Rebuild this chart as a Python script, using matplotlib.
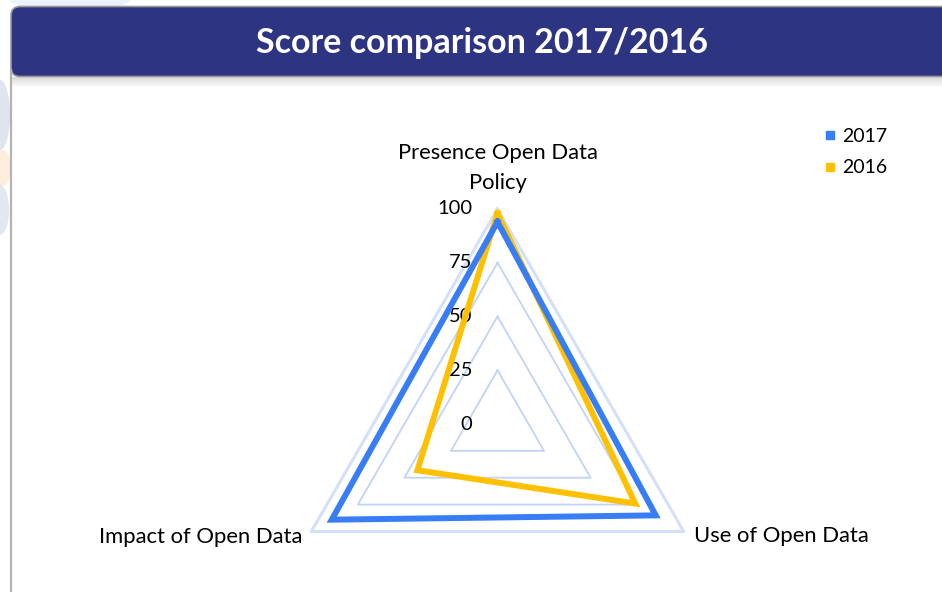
import numpy as np
import matplotlib.pyplot as plt
from matplotlib.patches import FancyBboxPatch, Rectangle, Ellipse
from matplotlib.lines import Line2D

# données
categories = ["Presence Open Data\nPolicy", "Use of Open Data", "Impact of Open Data"]
scores_2017 = [94, 85, 89]
scores_2016 = [98, 74, 43]
series = ["2017", "2016"]
levels = [0, 25, 50, 75, 100]
title = "Score comparison 2017/2016"

BLUE = "#377DF6"
YELLOW = "#FFC000"
GRID = "#C4D6F7"
BANNER = "#2D3481"

plt.rcParams['font.family'] = ['Lato', 'DejaVu Sans']

W, H = 942, 592
fig = plt.figure(figsize=(W / 100, H / 100), dpi=100)

# fond de diapo (pixels)
bg = fig.add_axes([0, 0, 1, 1], zorder=0)
bg.set_xlim(0, W)
bg.set_ylim(H, 0)
bg.axis("off")

# taches floues a gauche
for (x, y, w, h, c) in [(70, 0, 120, 20, "#DCEBF7"), (0, 115, 20, 70, "#CDD3E4"),
                        (2, 168, 18, 36, "#FCE3C4"), (0, 210, 18, 50, "#D3D8E6")]:
    bg.add_patch(Ellipse((x, y), w, h, color=c, alpha=0.6, lw=0))

# carte blanche + bord gauche
bg.add_patch(Rectangle((11, 76), W, H, facecolor="white", edgecolor="none"))
bg.plot([10.5, 10.5], [70, H], color="#B3B3B3", lw=1.6)

# ombre sous le bandeau
for i in range(10):
    bg.add_patch(Rectangle((12, 77 + i), W, 1, color="#808080",
                           alpha=0.28 * (1 - i / 10), lw=0))

# bandeau du titre
bg.add_patch(FancyBboxPatch((11, 6.5), W + 20, 70,
                            boxstyle="round,pad=0,rounding_size=9",
                            facecolor=BANNER, edgecolor="#9A9A9A", lw=1.2))
bg.text(482, 43, title, color="white", fontsize=24.5, fontweight="bold",
        ha="center", va="center")

# radar
cx, cy, R = 497.5, 424, 215
ax = fig.add_axes([(cx - R) / W, (H - cy - R) / H, 2 * R / W, 2 * R / H],
                  projection="polar", zorder=1)
ax.set_facecolor("none")
ax.set_theta_zero_location("N")
ax.set_theta_direction(-1)
ax.set_ylim(0, 100)
ax.grid(False)
ax.set_xticks([])
ax.set_yticks([])
ax.spines["polar"].set_visible(False)

angles = np.linspace(0, 2 * np.pi, len(categories), endpoint=False)
closed = np.append(angles, angles[0])

for lv in levels[1:]:
    if lv == 100:
        ax.plot(closed, [lv] * 4, color="#D3E0F8", lw=2.2, clip_on=False)
    else:
        ax.plot(closed, [lv] * 4, color=GRID, lw=1.4, clip_on=False)

for lv in levels:
    ax.annotate(str(lv), xy=(0, lv), xytext=(-25, 0), textcoords="offset pixels",
                ha="right", va="center", fontsize=14.5, color="black")

ax.plot(closed, scores_2016 + scores_2016[:1], color=YELLOW, lw=4.3,
        solid_joinstyle="miter", clip_on=False, zorder=3)
ax.plot(closed, scores_2017 + scores_2017[:1], color=BLUE, lw=4.3,
        solid_joinstyle="miter", clip_on=False, zorder=4)

ax.annotate(categories[0], xy=(angles[0], 100), xytext=(0, 41),
            textcoords="offset pixels", ha="center", va="center",
            fontsize=15.8, linespacing=1.6)
ax.annotate(categories[1], xy=(angles[1], 100), xytext=(10, -5),
            textcoords="offset pixels", ha="left", va="center", fontsize=15.8)
ax.annotate(categories[2], xy=(angles[2], 100), xytext=(-9, -5),
            textcoords="offset pixels", ha="right", va="center", fontsize=15.8)

handles = [Line2D([], [], marker="s", ls="none", color=c, markersize=6)
           for c in (BLUE, YELLOW)]
fig.legend(handles, series, loc="upper left", bbox_to_anchor=(813 / W, 1 - 118 / H),
           frameon=False, fontsize=14, handlelength=0.7, handletextpad=0.3,
           labelspacing=0.75, borderpad=0)

fig.savefig("out.png", dpi=100)
